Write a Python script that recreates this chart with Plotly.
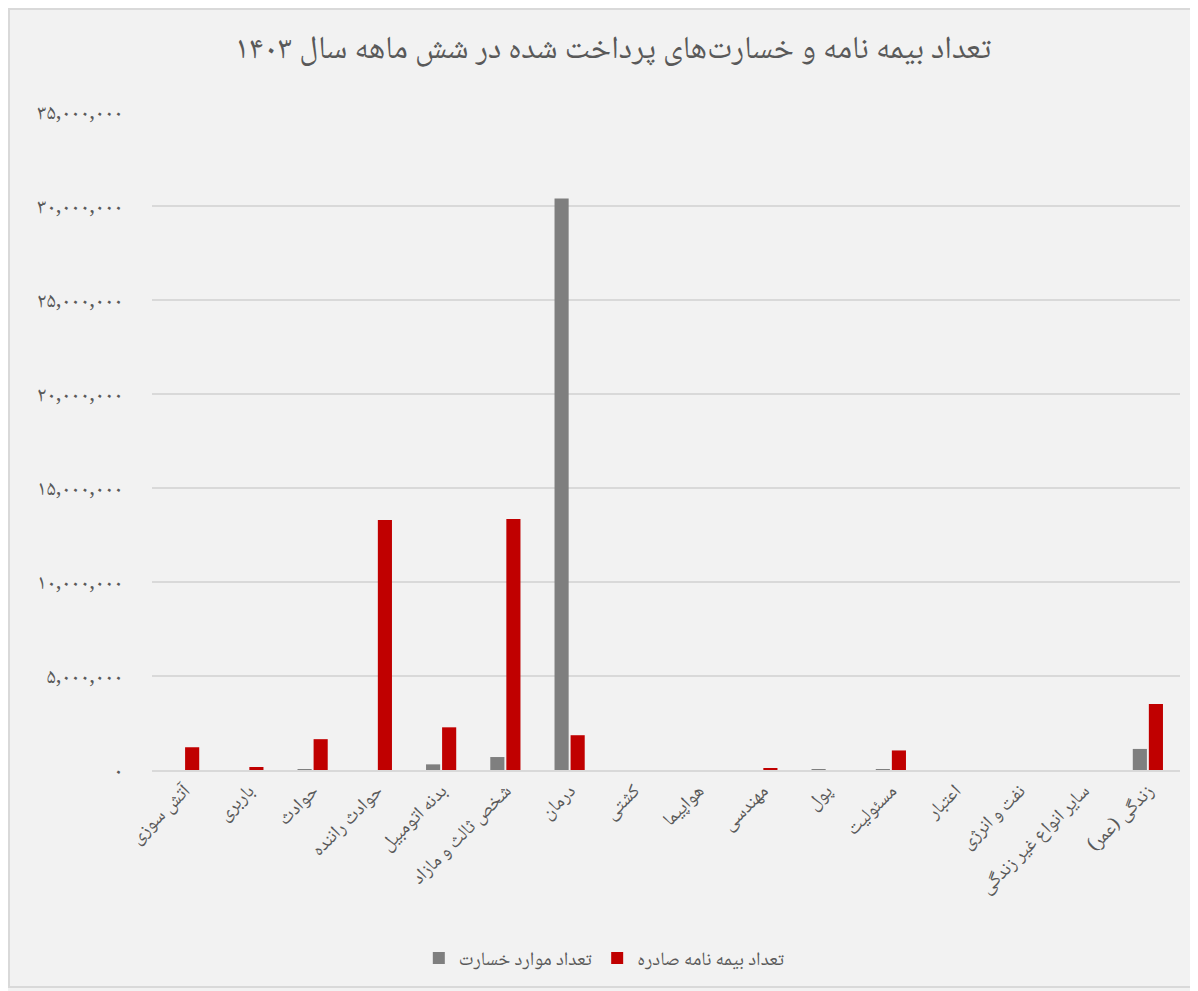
import plotly.graph_objects as go

categories = ["آتش سوزی", "باربری", "حوادث", "حوادث راننده", "بدنه اتومبیل",
              "شخص ثالث و مازاد", "درمان", "کشتی", "هواپیما", "مهندسی", "پول",
              "مسئولیت", "اعتبار", "نفت و انرژی", "سایر انواع غیر زندگی", "زندگی (عمر)"]
claims = [0, 0, 40000, 0, 300000, 690000, 30400000, 0, 0, 0, 20000,
          40000, 0, 0, 0, 1120000]
policies = [1210000, 160000, 1640000, 13300000, 2270000, 13350000, 1850000, 0, 0,
            100000, 0, 1040000, 0, 0, 0, 3510000]
y_tickvals = [0, 5000000, 10000000, 15000000, 20000000, 25000000, 30000000, 35000000]
y_ticktext = ["۰", "۵,۰۰۰,۰۰۰", "۱۰,۰۰۰,۰۰۰", "۱۵,۰۰۰,۰۰۰", "۲۰,۰۰۰,۰۰۰",
              "۲۵,۰۰۰,۰۰۰", "۳۰,۰۰۰,۰۰۰", "۳۵,۰۰۰,۰۰۰"]
title_text = "تعداد بیمه نامه و خسارت‌های پرداخت شده در شش ماهه سال ۱۴۰۳"
name_claims = "تعداد موارد خسارت"
name_policies = "تعداد بیمه نامه صادره"

FONT = "Noto Naskh Arabic, Noto Sans Arabic, DejaVu Sans, sans-serif"
TXT = "#595959"

fig = go.Figure()
fig.add_trace(go.Bar(x=categories, y=claims, name=name_claims,
                     marker=dict(color="#7f7f7f", line=dict(width=0))))
fig.add_trace(go.Bar(x=categories, y=policies, name=name_policies,
                     marker=dict(color="#c00000", line=dict(width=0))))

# page offset of 8px (body margin)
fig.update_layout(
    width=1190, height=983,
    margin=dict(l=144, r=18, t=104, b=221),
    paper_bgcolor="#f2f2f2", plot_bgcolor="#f2f2f2",
    barmode="group", bargap=0.5, bargroupgap=0.12,
    font=dict(family=FONT, color=TXT),
    title=dict(text=title_text, x=(613 - 8) / 1190, xanchor="center", y=1 - 39 / 983,
               yanchor="middle", font=dict(size=32, color=TXT, family=FONT)),
    showlegend=True,
    legend=dict(orientation="h", x=0.44, xanchor="center", y=-0.286, yanchor="middle",
                font=dict(size=19, color=TXT), traceorder="normal", itemwidth=30,
                bgcolor="rgba(0,0,0,0)"),
    xaxis=dict(tickangle=-45, tickfont=dict(size=19, color=TXT), showgrid=False,
               showline=True, linecolor="#d9d9d9", linewidth=2, ticks=""),
    yaxis=dict(range=[0, 35000000], tickvals=y_tickvals, ticktext=y_ticktext,
               tickfont=dict(size=21, color=TXT), gridcolor="#d9d9d9", gridwidth=1.5,
               zeroline=False, showline=False, ticklabelstandoff=28),
    shapes=[dict(type="rect", xref="paper", yref="paper",
                 x0=(9 - 152) / 1028, x1=(1195 - 152) / 1028,
                 y0=(770 - 987) / 658, y1=(770 - 9) / 658,
                 line=dict(color="#d9d9d9", width=2), fillcolor="rgba(0,0,0,0)", layer="below")],
)

fig.write_html("out.html")
